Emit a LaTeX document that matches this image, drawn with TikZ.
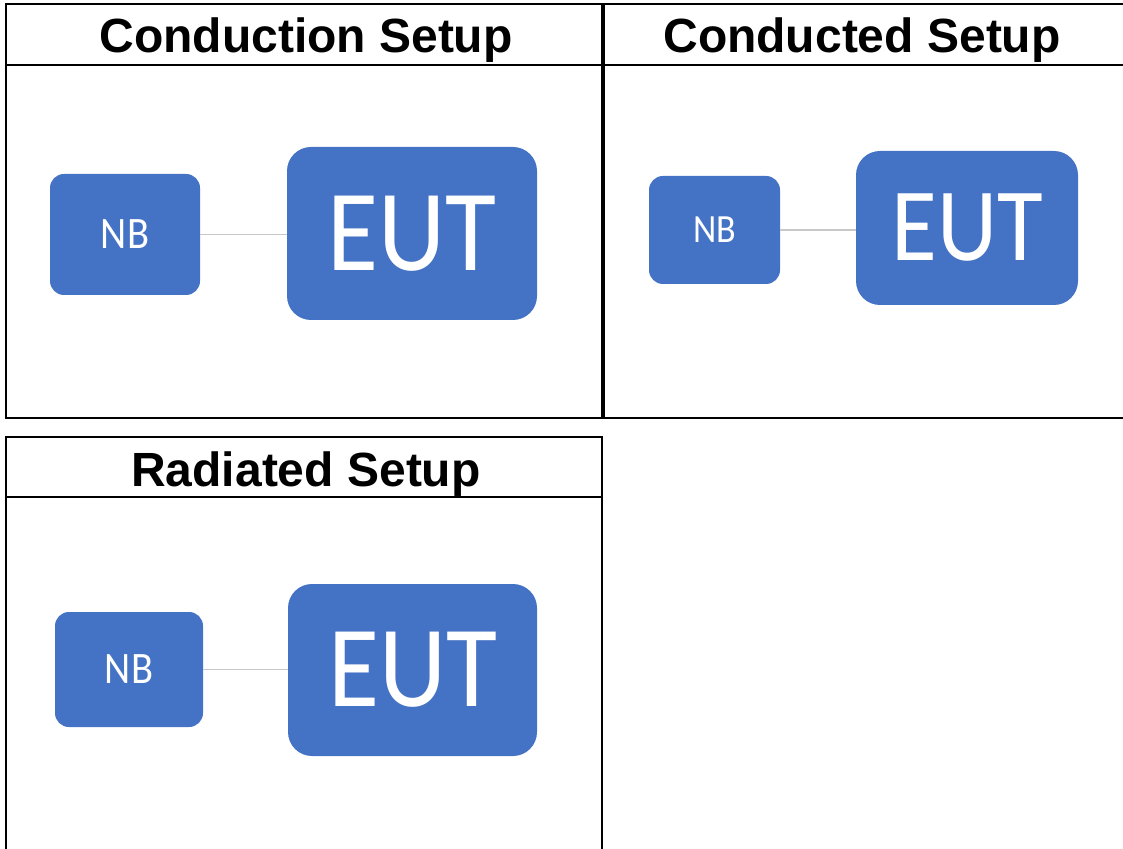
\documentclass[tikz,border=0pt]{standalone}
\usepackage{fontspec}
\setmainfont{Liberation Sans}
\newfontfamily\boxfont[FakeStretch=0.9]{Carlito}
\usepackage{tikz}
\usetikzlibrary{calc,positioning}
\definecolor{setupblue}{HTML}{4472C4}
\definecolor{linkgrey}{HTML}{C8C8C8}
\tikzset{%
	cell/.style     = {draw=black, line width=1pt},
	midrule/.style  = {draw=black, line width=1.8pt},
	heading/.style  = {font=\fontsize{24}{24}\selectfont\bfseries, text=black, inner sep=0pt, anchor=base},
	nbbox/.style    = {fill=setupblue, rounded corners=7pt, text=white, font=\boxfont\fontsize{22.5}{22.5}\selectfont, inner sep=0pt},
	eutbox/.style   = {fill=setupblue, rounded corners=12pt, text=white, font=\boxfont\fontsize{58}{58}\selectfont, inner sep=0pt},
	link/.style     = {draw=linkgrey, line width=0.6pt},
}

\begin{document}
\begin{tikzpicture}[x=0.5pt,y=-0.5pt]
		\useasboundingbox (0,0) rectangle (1123,849);
		
		% upper table
		\draw[cell] (1123,4) -- (6,4) -- (6,418) -- (1123,418);
		\draw[cell] (6,65) -- (1123,65);
		\draw[midrule] (603,4) -- (603,418);
		
		\node[heading] (conduction) at (306,53) {Conduction Setup};
		\node[heading] (conducted) at (862,53) {Conducted Setup};
		
		\node[nbbox, minimum width=75pt, minimum height=60.5pt] (nb1) at (125,234.5) {NB};
		\node[eutbox, minimum width=125pt, minimum height=86.5pt] (eut1) at (412,233.5) {EUT};
		\draw[link] (nb1.east) -- (nb1.east -| eut1.west);
		
		\node[nbbox, minimum width=65.5pt, minimum height=54pt, font=\boxfont\fontsize{20}{20}\selectfont] (nb2) at (714.5,230) {NB};
		\node[eutbox, minimum width=111pt, minimum height=77pt, font=\boxfont\fontsize{52}{52}\selectfont] (eut2) at (967,228) {EUT};
		\draw[link] (nb2.east) -- (nb2.east -| eut2.west);
		
		% lower table
		\draw[cell] (6,849) -- (6,437) -- (602,437) -- (602,849);
		\draw[cell] (6,497) -- (602,497);
		
		\node[heading] (radiated) at (306,487) {Radiated Setup};
		
		\node[nbbox, minimum width=74pt, minimum height=57.5pt] (nb3) at (129,669.5) {NB};
		\node[eutbox, minimum width=124.5pt, minimum height=86pt] (eut3) at (412.5,670) {EUT};
		\draw[link] (nb3.east) -- (nb3.east -| eut3.west);
\end{tikzpicture}
\end{document}
